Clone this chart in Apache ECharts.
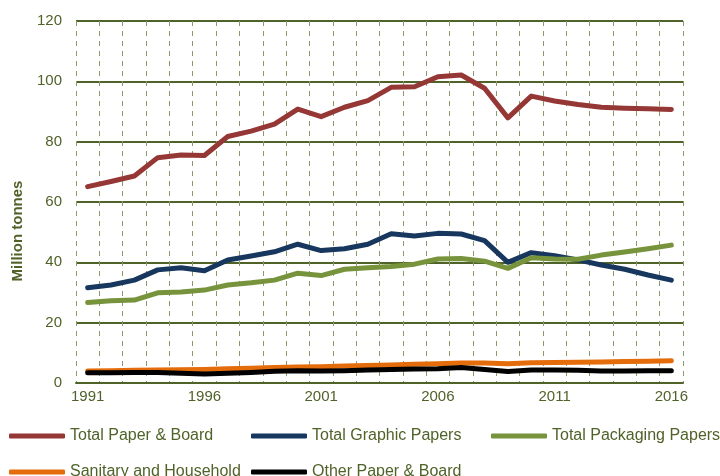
<!DOCTYPE html>
<html>
<head>
<meta charset="utf-8">
<script src="https://cdn.jsdelivr.net/npm/echarts@6/dist/echarts.min.js"></script>
<style>
html,body{margin:0;padding:0;background:#fff;}
#chart{width:720px;height:476px;}
</style>
</head>
<body>
<div id="chart"></div>
<script>
const years = ['1991','1992','1993','1994','1995','1996','1997','1998','1999','2000','2001','2002','2003','2004','2005','2006','2007','2008','2009','2010','2011','2012','2013','2014','2015','2016'];
const totalPaperBoard = [65.1,66.8,68.6,74.7,75.6,75.4,81.7,83.5,85.8,90.8,88.3,91.4,93.6,98.0,98.2,101.5,102.1,97.7,87.9,95.1,93.5,92.3,91.4,91.1,90.9,90.7];
const totalGraphic = [31.6,32.5,34.1,37.5,38.2,37.2,40.8,42.1,43.5,46.0,43.9,44.5,46.0,49.5,48.7,49.6,49.4,47.2,40.0,43.2,42.2,40.8,39.1,37.7,35.8,34.1];
const totalPackaging = [26.7,27.3,27.5,29.9,30.2,30.8,32.5,33.2,34.1,36.4,35.6,37.7,38.2,38.6,39.4,41.1,41.3,40.4,38.0,41.5,41.1,41.0,42.4,43.4,44.5,45.7];
const sanitaryHousehold = [4.0,4.1,4.2,4.3,4.4,4.5,4.7,4.9,5.1,5.3,5.4,5.6,5.8,6.0,6.2,6.4,6.6,6.6,6.4,6.7,6.8,6.9,7.0,7.1,7.2,7.4];
const otherPaperBoard = [3.4,3.4,3.5,3.5,3.2,3.0,3.2,3.5,3.9,4.1,4.0,4.1,4.3,4.5,4.6,4.7,5.1,4.5,3.8,4.3,4.3,4.2,4.0,4.0,4.1,4.1];
const seriesNames = ['Total Paper & Board','Total Graphic Papers','Total Packaging Papers','Sanitary and Household','Other Paper & Board'];
const seriesColors = ['#953735','#17375E','#77933C','#E46C0A','#000000'];
const seriesData = [totalPaperBoard,totalGraphic,totalPackaging,sanitaryHousehold,otherPaperBoard];
const yTitle = 'Million tonnes';

const olive = '#4F6228';
const font = '"Liberation Sans", Arial, sans-serif';

// legend slot placement (column, row) for each series
const legendCol = [0, 1, 2, 0, 1];
const legendRow = [0, 0, 0, 1, 1];
const colLeft = [4, 246, 486];
const rowTop = [421, 457];

const chart = echarts.init(document.getElementById('chart'), null, {renderer:'canvas'});
chart.setOption({
  animation: false,
  backgroundColor: '#fff',
  grid: {left: 76, right: 37, top: 21, bottom: 93, containLabel: false},
  xAxis: {
    type: 'category',
    data: years,
    boundaryGap: true,
    axisLine: {show: true, lineStyle: {color: olive, width: 2}},
    axisTick: {show: false},
    axisLabel: {interval: 4, color: olive, fontFamily: font, fontSize: 15, margin: 6},
    splitLine: {show: true, interval: 0, lineStyle: {color: '#8a9a6a', width: 1, type: [5,5]}}
  },
  yAxis: {
    type: 'value',
    min: 0, max: 120, interval: 20,
    axisLine: {show: false},
    axisTick: {show: false},
    axisLabel: {color: olive, fontFamily: font, fontSize: 15, margin: 14},
    splitLine: {show: true, lineStyle: {color: olive, width: 2}}
  },
  legend: seriesNames.map((n, i) => ({
    left: colLeft[legendCol[i]], top: rowTop[legendRow[i]], orient: 'horizontal',
    itemWidth: 56, itemHeight: 5, itemGap: 5, icon: 'roundRect',
    textStyle: {color: olive, fontFamily: font, fontSize: 16, lineHeight: 20},
    data: [n]
  })),
  graphic: [{
    type: 'text', x: 18, y: 231, rotation: Math.PI / 2,
    style: {text: yTitle, fill: olive, font: 'bold 15px ' + font, textAlign: 'center', textVerticalAlign: 'middle'}
  }],
  series: seriesNames.map((n, i) => ({
    name: n,
    type: 'line',
    data: seriesData[i],
    symbol: 'none',
    smooth: false,
    color: seriesColors[i],
    lineStyle: {color: seriesColors[i], width: 5, cap: 'round', join: 'round'},
    emphasis: {disabled: true}
  }))
});
</script>
</body>
</html>
